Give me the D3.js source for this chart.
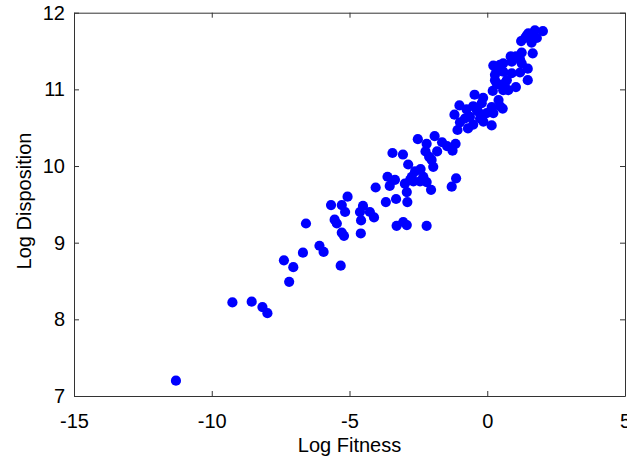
<!DOCTYPE html>
<html>
<head>
<meta charset="utf-8">
<script src="https://cdn.jsdelivr.net/npm/d3@7/dist/d3.min.js"></script>
<style>
  html, body { margin: 0; padding: 0; background: #fff; }
  svg { display: block; }
</style>
</head>
<body>
<script>
// Data: Log Fitness (x) and Log Disposition (y)
const logFitness = [
  -11.30, -9.25, -8.55, -8.16, -7.98, -7.19, -7.38, -7.04, -6.69, -6.58,
  -6.09, -5.94, -5.32, -5.67, -5.28, -5.07, -5.16, -5.54, -5.46, -5.28,
  -5.20, -4.59, -4.58, -4.62, -4.51, -4.26, -4.11, -4.05, -3.29, -3.05,
  -2.92, -2.20, -3.62, -3.35, -3.54, -3.68, -3.31, -2.90, -2.99, -2.92,
  -2.80, -2.74, -2.62, -2.68, -2.87, -2.42, -2.32, -2.44, -2.20, -2.04,
  -3.44, -3.06, -2.52, -2.20, -2.24, -2.11, -2.02, -1.96, -1.91, -1.82,
  -1.64, -1.46, -1.26, -1.15, -1.13, -1.29, -1.19, -1.08, -0.99, -0.81,
  -0.70, -1.01, -0.75, -0.63, -0.38, -0.51, -0.26, -0.51, -0.14, -0.46,
  -0.15, -0.20, -0.33, -0.02, 0.16, 0.22, 0.16, 0.41, 0.46, 0.56,
  0.20, 0.34, 0.46, 0.58, 0.76, 1.04, 0.64, 0.71, 0.28, 0.28,
  0.34, 0.22, 0.46, 0.58, 0.89, 0.58, 0.89, 1.19, 1.25, 1.19,
  1.47, 1.47, 0.85, 1.04, 1.25, 1.65, 1.23, 1.37, 1.43, 1.55,
  1.61, 1.80, 1.73, 2.02, 1.49
];
const logDisposition = [
  7.20, 8.22, 8.23, 8.16, 8.08, 8.49, 8.77, 8.68, 8.87, 9.25,
  8.96, 8.88, 8.70, 9.49, 9.49, 9.60, 9.40, 9.30, 9.25, 9.13,
  9.09, 9.12, 9.29, 9.40, 9.48, 9.40, 9.33, 9.72, 9.22, 9.27,
  9.23, 9.22, 9.86, 9.82, 9.74, 9.53, 9.57, 9.53, 9.77, 9.66,
  9.82, 9.86, 9.93, 9.80, 10.02, 9.96, 9.86, 9.80, 9.79, 9.69,
  10.17, 10.15, 10.35, 10.29, 10.19, 10.12, 10.08, 9.99, 10.39, 10.19,
  10.31, 10.26, 10.20, 10.29, 9.84, 9.73, 10.67, 10.47, 10.57, 10.62,
  10.49, 10.79, 10.74, 10.64, 10.73, 10.78, 10.62, 10.54, 10.58, 10.93,
  10.89, 10.82, 10.71, 10.69, 10.77, 10.69, 10.53, 10.86, 10.78, 10.75,
  10.98, 11.08, 11.06, 10.99, 10.99, 11.03, 11.08, 11.12, 11.12, 11.19,
  11.25, 11.31, 11.32, 11.23, 11.21, 11.34, 11.36, 11.39, 11.34, 11.22,
  11.27, 11.12, 11.43, 11.43, 11.48, 11.47, 11.63, 11.67, 11.70, 11.70,
  11.61, 11.67, 11.77, 11.76, 11.73
];
const xTicks = [-15, -10, -5, 0, 5];
const yTicks = [7, 8, 9, 10, 11, 12];
const xLabel = "Log Fitness";
const yLabel = "Log Disposition";

const W = 627, H = 456;
const margin = { left: 74, right: 2, top: 12.7, bottom: 60 };
const fontFamily = "'Liberation Sans', Arial, Helvetica, sans-serif";
const fontSize = "20px";

const svg = d3.select("body").append("svg")
  .attr("width", W).attr("height", H);

const x = d3.scaleLinear().domain([-15, 5]).range([margin.left, W - margin.right]);
const y = d3.scaleLinear().domain([7, 12]).range([H - margin.bottom, margin.top]);

const points = logFitness.map((v, i) => ({ x: v, y: logDisposition[i] }));

// Points
svg.append("g")
  .selectAll("circle")
  .data(points)
  .join("circle")
  .attr("cx", d => x(d.x))
  .attr("cy", d => y(d.y))
  .attr("r", 5.1)
  .attr("fill", "#0000ff");

const axisColor = "#333";
const fmt = d => String(d);
function styleAxis(g, showText) {
  g.selectAll("path.domain").attr("stroke", axisColor).attr("stroke-width", 1);
  g.selectAll(".tick line").attr("stroke", axisColor).attr("stroke-width", 1);
  g.selectAll(".tick text")
    .attr("fill", "#000")
    .style("font-family", fontFamily)
    .style("font-size", fontSize);
  if (!showText) g.selectAll(".tick text").remove();
}

// Bottom axis
svg.append("g")
  .attr("transform", `translate(0,${y(7)})`)
  .call(d3.axisBottom(x).tickValues(xTicks).tickSizeInner(-5).tickSizeOuter(0).tickPadding(18).tickFormat(fmt))
  .call(g => styleAxis(g, true));

// Top axis
svg.append("g")
  .attr("transform", `translate(0,${y(12)})`)
  .call(d3.axisTop(x).tickValues(xTicks).tickSizeInner(-5).tickSizeOuter(0).tickFormat(""))
  .call(g => styleAxis(g, false));

// Left axis
svg.append("g")
  .attr("transform", `translate(${x(-15)},0)`)
  .call(d3.axisLeft(y).tickValues(yTicks).tickSizeInner(-5).tickSizeOuter(0).tickPadding(9).tickFormat(fmt))
  .call(g => styleAxis(g, true));

// Right axis
svg.append("g")
  .attr("transform", `translate(${x(5)},0)`)
  .call(d3.axisRight(y).tickValues(yTicks).tickSizeInner(-5).tickSizeOuter(0).tickFormat(""))
  .call(g => styleAxis(g, false));

// Axis titles
svg.append("text")
  .attr("x", (x(-15) + x(5)) / 2)
  .attr("y", 451.5)
  .attr("text-anchor", "middle")
  .style("font-family", fontFamily)
  .style("font-size", fontSize)
  .text(xLabel);

svg.append("text")
  .attr("transform", `translate(31,201) rotate(-90)`)
  .attr("text-anchor", "middle")
  .style("font-family", fontFamily)
  .style("font-size", fontSize)
  .text(yLabel);
</script>
</body>
</html>
